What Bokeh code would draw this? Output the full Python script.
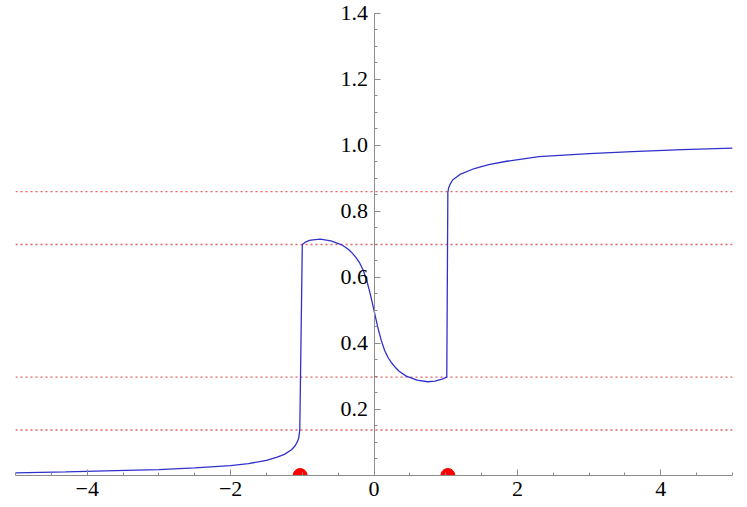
from bokeh.plotting import figure
from bokeh.models import Range1d, FixedTicker
from bokeh.embed import file_html
from bokeh.resources import INLINE

# ---- data ----
left_x = [-5.0, -4.3, -3.6, -3.0, -2.5, -2.0, -1.75, -1.5, -1.35, -1.25, -1.15, -1.1, -1.065, -1.05, -1.035]
left_y = [0.008, 0.011, 0.015, 0.018, 0.023, 0.030, 0.036, 0.046, 0.056, 0.064, 0.078, 0.090, 0.104, 0.114, 0.138]

mid_x = [-1.0, -0.95, -0.9, -0.85, -0.75, -0.6, -0.45, -0.35, -0.3, -0.25, -0.2, -0.15, -0.1, -0.05, 0.0,
         0.05, 0.1, 0.15, 0.2, 0.25, 0.3, 0.35, 0.45, 0.6, 0.75, 0.85, 0.95, 1.015]
mid_y = [0.700, 0.708, 0.712, 0.714, 0.716, 0.711, 0.699, 0.684, 0.673, 0.660, 0.644, 0.622, 0.590, 0.548, 0.500,
         0.452, 0.410, 0.378, 0.356, 0.340, 0.327, 0.316, 0.301, 0.289, 0.284, 0.286, 0.292, 0.298]

right_x = [1.03, 1.04, 1.06, 1.1, 1.2, 1.4, 1.6, 1.85, 2.3, 3.0, 3.6, 4.3, 5.0]
right_y = [0.858, 0.870, 0.882, 0.896, 0.912, 0.930, 0.942, 0.952, 0.966, 0.975, 0.981, 0.987, 0.992]

level_values = [0.138, 0.700, 0.860, 0.298]

root_x = [-1.03, 1.03]
root_y = [0.0, 0.0]

x_ticks = [-4, -2, 0, 2, 4]
x_tick_labels = ["\u22124", "\u22122", "0", "2", "4"]
x_minor = [-5 + 0.5 * i for i in range(21)]

y_ticks = [0.2, 0.4, 0.6, 0.8, 1.0, 1.2, 1.4]
y_tick_labels = ["0.2", "0.4", "0.6", "0.8", "1.0", "1.2", "1.4"]
y_minor = [round(0.05 * i, 2) for i in range(1, 29)]

curve_x = left_x + mid_x + right_x
curve_y = left_y + mid_y + right_y

# ---- figure ----
p = figure(width=747, height=507, output_backend="svg", toolbar_location=None,
           x_range=Range1d(-5, 5), y_range=Range1d(0, 1.436),
           min_border_left=15, min_border_right=15, min_border_top=1, min_border_bottom=32)
p.outline_line_color = None
p.xgrid.visible = False
p.ygrid.visible = False
p.background_fill_color = "white"

for v in level_values:
    p.line(x=[-5, 5], y=[v, v], line_color="#e06060", line_width=1.4, line_dash="2 3")

p.line(x=curve_x, y=curve_y, line_color="#3030cc", line_width=1.3)

p.scatter(x=root_x, y=root_y, size=14, fill_color="#ff0000", line_color="#ff0000")

font = "Liberation Serif"
grey = "#8c8c8c"

xa = p.xaxis[0]
xa.ticker = FixedTicker(ticks=x_ticks, minor_ticks=x_minor)
xa.major_label_overrides = {t: l for t, l in zip(x_ticks, x_tick_labels)}
xa.axis_line_color = grey
xa.major_tick_line_color = grey
xa.minor_tick_line_color = grey
xa.major_tick_in = 6
xa.major_tick_out = 0
xa.minor_tick_in = 3
xa.minor_tick_out = 0
xa.major_label_standoff = 6
xa.major_label_text_font = font
xa.major_label_text_font_size = "22px"
xa.major_label_text_color = "black"

ya = p.yaxis[0]
ya.fixed_location = 0
ya.bounds = (0, 1.4)
ya.ticker = FixedTicker(ticks=y_ticks, minor_ticks=y_minor)
ya.major_label_overrides = {t: l for t, l in zip(y_ticks, y_tick_labels)}
ya.axis_line_color = grey
ya.major_tick_line_color = grey
ya.minor_tick_line_color = grey
ya.major_tick_in = 6
ya.major_tick_out = 0
ya.minor_tick_in = 3
ya.minor_tick_out = 0
ya.major_label_standoff = 6
ya.major_label_text_font = font
ya.major_label_text_font_size = "22px"
ya.major_label_text_color = "black"

open("out.html", "w").write(file_html(p, INLINE))
